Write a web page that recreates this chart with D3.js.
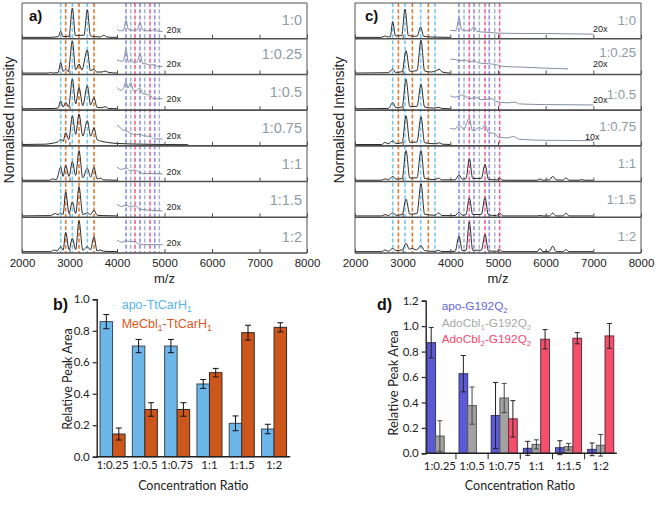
<!DOCTYPE html>
<html><head><meta charset="utf-8">
<script src="https://cdn.jsdelivr.net/npm/d3@7"></script>
<style>body{margin:0;background:#fff}svg{display:block}</style>
</head><body><svg id="fig" width="661" height="508"></svg>
<script>
// ---------- DATA ----------
const ratioLabels = ["1:0","1:0.25","1:0.5","1:0.75","1:1","1:1.5","1:2"];
const mzTicks = [2000,3000,4000,5000,6000,7000,8000];

// panel a marker lines (m/z)
const aBlueLines = [2815,3060,3375];
const aOrangeLines = [2920,3200,3516];
const aPurpleLines = [4190,4484,4794];
const aGrayLines = [4288,4583,4891];
const aPinkLines = [4379,4695];
// panel c marker lines (m/z)
const cBlueLines = [2791,3049,3378,3678];
const cOrangeLines = [2910,3203,3538];
const cPurpleLines = [4182,4497,4817];
const cGrayLines = [4287,4608,4931];
const cPinkLines = [4398,4727,5034];

// panel a spectra [m/z, normalised intensity]
const aSpec1 = [[2000,0.01],[2600,0.01],[2700,0.02],[2765,0.03],[2815,0.18],[2865,0.03],[2990,0.04],[3060,0.85],[3125,0.06],[3200,0.07],[3305,0.07],[3375,0.80],[3440,0.06],[3520,0.03],[3650,0.02],[3720,0.07],[3790,0.02],[3900,0.01],[4000,0.01]];
const aSpec2 = [[2000,0.01],[2550,0.01],[2600,0.03],[2650,0.01],[2760,0.02],[2815,0.31],[2865,0.06],[2920,0.12],[2975,0.05],[3060,0.93],[3130,0.10],[3200,0.27],[3260,0.10],[3375,0.67],[3440,0.08],[3516,0.12],[3570,0.04],[3680,0.04],[3750,0.07],[3820,0.03],[4000,0.01]];
const aSpec3 = [[2000,0.01],[2700,0.02],[2760,0.03],[2815,0.24],[2865,0.06],[2920,0.19],[2980,0.06],[3060,0.86],[3130,0.15],[3200,0.62],[3280,0.10],[3375,0.67],[3445,0.12],[3516,0.33],[3580,0.05],[3680,0.04],[3750,0.07],[3820,0.02],[4000,0.01]];
const aSpec4 = [[2000,0.01],[2500,0.02],[2650,0.05],[2750,0.08],[2815,0.16],[2865,0.10],[2920,0.35],[2985,0.15],[3060,0.83],[3130,0.30],[3200,0.88],[3280,0.25],[3375,0.69],[3445,0.25],[3516,0.49],[3580,0.15],[3680,0.10],[3800,0.07],[4000,0.04],[4500,0.02],[5000,0.01],[5500,0.005]];
const aSpec5 = [[2000,0.01],[2580,0.01],[2650,0.05],[2720,0.02],[2815,0.38],[2865,0.12],[2920,0.43],[2990,0.12],[3060,0.54],[3130,0.15],[3200,0.86],[3280,0.08],[3375,0.35],[3445,0.10],[3516,0.38],[3580,0.05],[3650,0.07],[3720,0.02],[4000,0.01]];
const aSpec6 = [[2000,0.01],[2600,0.02],[2700,0.08],[2760,0.04],[2815,0.10],[2865,0.05],[2920,0.70],[2990,0.08],[3060,0.41],[3130,0.08],[3200,0.84],[3280,0.05],[3375,0.10],[3440,0.05],[3516,0.17],[3580,0.03],[3700,0.02],[4000,0.01]];
const aSpec7 = [[2000,0.01],[2600,0.01],[2680,0.06],[2740,0.03],[2815,0.15],[2865,0.05],[2920,0.56],[2990,0.07],[3060,0.39],[3130,0.07],[3200,0.89],[3280,0.05],[3375,0.15],[3440,0.06],[3516,0.44],[3580,0.03],[3650,0.06],[3720,0.02],[4000,0.01]];
// panel a 20x zoomed traces
const aZoom1 = [[4000,0.25],[4050,0.20],[4130,0.20],[4190,0.49],[4240,0.24],[4330,0.21],[4420,0.22],[4484,0.42],[4540,0.22],[4650,0.20],[4740,0.20],[4794,0.26],[4850,0.19],[4960,0.18]];
const aZoom2 = [[4000,0.39],[4060,0.36],[4130,0.35],[4190,0.68],[4240,0.32],[4300,0.40],[4360,0.30],[4420,0.32],[4484,0.56],[4540,0.28],[4620,0.27],[4700,0.24],[4794,0.25],[4850,0.20],[4960,0.20]];
const aZoom3 = [[4000,0.62],[4080,0.54],[4130,0.58],[4190,0.79],[4230,0.60],[4290,0.76],[4340,0.55],[4380,0.50],[4484,0.60],[4540,0.45],[4620,0.42],[4700,0.40],[4760,0.30],[4850,0.30],[4960,0.30]];
const aZoom4 = [[4000,0.57],[4060,0.50],[4130,0.42],[4190,0.40],[4260,0.35],[4380,0.29],[4484,0.30],[4560,0.26],[4700,0.24],[4790,0.17],[4960,0.17]];
const aZoom5 = [[4000,0.38],[4100,0.32],[4190,0.36],[4280,0.28],[4380,0.30],[4484,0.22],[4600,0.20],[4790,0.20],[4960,0.19]];
const aZoom6 = [[4000,0.34],[4100,0.28],[4190,0.32],[4280,0.27],[4380,0.30],[4484,0.20],[4650,0.18],[4960,0.15]];
const aZoom7 = [[4000,0.34],[4100,0.28],[4190,0.32],[4280,0.30],[4380,0.30],[4450,0.23],[4650,0.21],[4960,0.21]];
const aZoomFactors = ["20x","20x","20x","20x","20x","20x","20x"];

// panel c spectra
const cSpec1 = [[2000,0.01],[2550,0.01],[2629,0.05],[2700,0.02],[2740,0.03],[2791,0.46],[2850,0.05],[2980,0.06],[3049,0.82],[3120,0.06],[3300,0.04],[3378,0.31],[3440,0.04],[3600,0.02],[4000,0.01]];
const cSpec2 = [[2000,0.01],[2700,0.02],[2791,0.12],[2850,0.03],[2990,0.05],[3070,0.65],[3150,0.06],[3300,0.08],[3385,0.95],[3460,0.07],[3600,0.04],[3700,0.08],[3768,0.12],[3830,0.04],[4000,0.01]];
const cSpec3 = [[2000,0.01],[2700,0.02],[2791,0.19],[2860,0.04],[2990,0.06],[3070,0.86],[3150,0.07],[3300,0.08],[3385,0.71],[3460,0.06],[3650,0.03],[3750,0.05],[3830,0.02],[4000,0.01]];
const cSpec4 = [[2000,0.01],[2560,0.01],[2629,0.07],[2690,0.03],[2791,0.11],[2860,0.04],[2990,0.06],[3070,0.83],[3150,0.07],[3300,0.08],[3385,0.80],[3460,0.06],[3700,0.03],[3770,0.06],[3830,0.02],[4000,0.01]];
const cSpec5 = [[2000,0.01],[2560,0.01],[2629,0.05],[2700,0.02],[2791,0.12],[2860,0.04],[2990,0.06],[3070,0.86],[3150,0.07],[3300,0.08],[3385,0.86],[3460,0.06],[3680,0.03],[3750,0.07],[3820,0.02],[4100,0.02],[4182,0.16],[4250,0.04],[4330,0.06],[4398,0.62],[4470,0.06],[4650,0.06],[4727,0.46],[4800,0.04],[4970,0.02],[5034,0.07],[5100,0.01],[5820,0.01],[5881,0.05],[5940,0.01],[6080,0.02],[6148,0.12],[6220,0.02],[6360,0.01],[6426,0.08],[6490,0.01],[6700,0.01],[6755,0.03],[6810,0.01],[7000,0.01]];
const cSpec6 = [[2000,0.01],[2560,0.01],[2629,0.05],[2700,0.02],[2791,0.10],[2860,0.03],[2990,0.05],[3070,0.49],[3150,0.06],[3300,0.08],[3385,0.93],[3460,0.06],[3680,0.03],[3750,0.10],[3820,0.02],[4100,0.02],[4182,0.12],[4250,0.03],[4330,0.05],[4398,0.52],[4470,0.05],[4650,0.05],[4727,0.53],[4800,0.04],[4970,0.02],[5034,0.10],[5100,0.01],[5820,0.01],[5881,0.02],[5940,0.01],[6080,0.01],[6148,0.09],[6220,0.01],[6360,0.01],[6426,0.09],[6490,0.01],[7000,0.01]];
const cSpec7 = [[2000,0.01],[2560,0.01],[2629,0.06],[2700,0.02],[2791,0.10],[2860,0.04],[2990,0.06],[3070,0.25],[3140,0.08],[3200,0.10],[3290,0.06],[3385,0.18],[3460,0.04],[3680,0.02],[3750,0.05],[3820,0.01],[4100,0.02],[4182,0.45],[4250,0.04],[4330,0.05],[4398,0.86],[4470,0.05],[4650,0.05],[4727,0.50],[4800,0.03],[4970,0.02],[5034,0.06],[5100,0.01],[5820,0.01],[5881,0.10],[5940,0.01],[6080,0.02],[6148,0.17],[6220,0.01],[6360,0.01],[6426,0.07],[6490,0.01],[7000,0.01]];
// panel c zoomed traces
const cZoom1 = [[4000,0.21],[4120,0.20],[4182,0.56],[4240,0.22],[4330,0.20],[4420,0.20],[4497,0.32],[4560,0.18],[4700,0.16],[4850,0.15],[5000,0.13],[5500,0.12],[6000,0.12],[6500,0.11],[7000,0.10]];
const cZoom2 = [[4000,0.41],[4100,0.40],[4182,0.36],[4300,0.38],[4400,0.33],[4497,0.36],[4600,0.30],[4750,0.28],[4930,0.26],[5100,0.20],[5500,0.18],[6000,0.15],[6470,0.13]];
const cZoom3 = [[4000,0.38],[4100,0.34],[4250,0.41],[4400,0.30],[4560,0.33],[4650,0.27],[4870,0.30],[4950,0.22],[5200,0.18],[5356,0.20],[5450,0.15],[6000,0.13],[7000,0.12]];
const cZoom4 = [[4000,0.47],[4100,0.45],[4182,0.57],[4280,0.45],[4398,0.75],[4460,0.42],[4497,0.40],[4608,0.50],[4660,0.45],[4727,0.57],[4800,0.35],[4929,0.33],[5000,0.22],[5200,0.20],[5321,0.24],[5450,0.16],[6000,0.13],[7000,0.12]];
const cZoomFactors = ["20x","20x","20x","10x"];

// panel b
const barCats = ["1:0.25","1:0.5","1:0.75","1:1","1:1.5","1:2"];
const bApo = [0.858,0.703,0.703,0.462,0.212,0.176];
const bApoErr = [0.045,0.042,0.042,0.028,0.047,0.030];
const bMeCbl = [0.144,0.300,0.300,0.534,0.788,0.822];
const bMeCblErr = [0.038,0.043,0.043,0.027,0.047,0.029];
const bTicks = [0,0.2,0.4,0.6,0.8,1.0];
// panel d
const dApo = [0.870,0.626,0.297,0.039,0.044,0.031];
const dApoErr = [0.120,0.143,0.260,0.055,0.055,0.050];
const dAdo1 = [0.136,0.375,0.435,0.070,0.052,0.063];
const dAdo1Err = [0.120,0.146,0.115,0.036,0.026,0.085];
const dAdo2 = [null,null,0.271,0.897,0.905,0.923];
const dAdo2Err = [null,null,0.143,0.076,0.044,0.098];
const dTicks = [0,0.2,0.4,0.6,0.8,1.0,1.2];

// ---------- DRAW ----------
const svg = d3.select("#fig");
const SANS = "'Liberation Sans', Arial, sans-serif";
const CAL = "Lato, 'Open Sans', sans-serif";
const C = {blue:"#7cc6ee", orange:"#e27a32", purple:"#8e8ee6", gray:"#aab6c4", pink:"#f2639a",
  ratio:"#8c9ba7", trace:"#2a2a2a", zoom:"#8090a2", frame:"#505050"};

function spectraPanel(o){
  const g = svg.append("g");
  const T = 3, B = 253, n = 7, h = (B - T) / n;
  const x = d3.scaleLinear().domain([2000,8000]).range([o.x0, o.x1]);
  // dashed markers
  o.lines.forEach(([arr, col]) => {
    g.append("g").selectAll("line").data(arr).join("line")
      .attr("x1", d => x(d)).attr("x2", d => x(d)).attr("y1", T).attr("y2", B)
      .attr("stroke", col).attr("stroke-width", 1.6).attr("stroke-dasharray", "4,2.2");
  });
  const line = d3.line().curve(d3.curveMonotoneX);
  for (let i = 0; i < n; i++) {
    const sb = T + (i + 1) * h;
    const y = d3.scaleLinear().domain([0,1]).range([sb - 1, sb - 36]);
    line.x(d => x(d[0])).y(d => y(d[1]));
    if (o.zoom[i]) {
      g.append("path").attr("d", line(o.zoom[i])).attr("fill","none")
        .attr("stroke", C.zoom).attr("stroke-width", 1);
      g.append("text").attr("x", o.zoomLabelX[i]).attr("y", sb - o.zoomLabelDy[i])
        .attr("font-family", SANS).attr("font-size", 9).attr("fill", "#222").text(o.zoomF[i]);
    }
    g.append("path").attr("d", line(o.spec[i])).attr("fill","none")
      .attr("stroke", C.trace).attr("stroke-width", 1);
    // ratio label
    g.append("text").attr("x", o.x1 - 5).attr("y", T + i * h + o.labDy[i])
      .attr("text-anchor","end").attr("font-family", SANS).attr("font-size", o.labSize)
      .attr("fill", C.ratio).text(ratioLabels[i]);
    // ticks on strip baseline
    const ax = d3.axisBottom(x).tickValues(mzTicks).tickSizeInner(-4).tickSizeOuter(0)
      .tickPadding(6).tickFormat(i === n - 1 ? d3.format("d") : () => "");
    const ag = g.append("g").attr("transform", `translate(0,${sb})`).call(ax);
    ag.select(".domain").remove();
    ag.selectAll("line").attr("stroke", C.frame);
    ag.selectAll("text").attr("font-family", SANS).attr("font-size", 11.5).attr("fill", "#222");
  }
  // strip separators and frame
  g.append("g").selectAll("line").data(d3.range(n + 1)).join("line")
    .attr("x1", o.x0).attr("x2", o.x1).attr("y1", d => T + d * h).attr("y2", d => T + d * h)
    .attr("stroke", C.frame).attr("stroke-width", d => (d === 0 ? 1 : 1.6));
  [o.x0, o.x1].forEach(xx => g.append("line").attr("x1", xx).attr("x2", xx).attr("y1", T).attr("y2", B)
    .attr("stroke", C.frame).attr("stroke-width", 1));
  // axis titles
  g.append("text").attr("x", (o.x0 + o.x1) / 2).attr("y", 283).attr("text-anchor","middle")
    .attr("font-family", SANS).attr("font-size", 13).attr("fill","#222").text("m/z");
  g.append("text").attr("transform", `translate(${o.yLabX},120) rotate(-90)`).attr("text-anchor","middle")
    .attr("font-family", SANS).attr("font-size", 14).attr("fill","#222").text("Normalised Intensity");
  g.append("text").attr("x", o.x0 + o.tagDx).attr("y", 21).attr("font-family", SANS)
    .attr("font-weight","bold").attr("font-size", 15).attr("fill","#111").text(o.tag);
}

spectraPanel({x0:22, x1:307, tag:"a)", tagDx:7, yLabX:13.5, labSize:14.5,
  lines:[[aBlueLines,C.blue],[aOrangeLines,C.orange],[aPurpleLines,C.purple],[aGrayLines,C.gray],[aPinkLines,C.pink]],
  spec:[aSpec1,aSpec2,aSpec3,aSpec4,aSpec5,aSpec6,aSpec7],
  zoom:[aZoom1,aZoom2,aZoom3,aZoom4,aZoom5,aZoom6,aZoom7], zoomF:aZoomFactors,
  zoomLabelX:[166.5,166.5,166.5,166.5,166.5,166.5,166.5], zoomLabelDy:[6,7.5,8,6.7,6.7,7.5,7.5],
  labDy:[22,20,23,23.3,23.6,23.6,24.5]});
spectraPanel({x0:355, x1:641, tag:"c)", tagDx:10, yLabX:343.5, labSize:13.2,
  lines:[[cBlueLines,C.blue],[cOrangeLines,C.orange],[cPurpleLines,C.purple],[cGrayLines,C.gray],[cPinkLines,C.pink]],
  spec:[cSpec1,cSpec2,cSpec3,cSpec4,cSpec5,cSpec6,cSpec7],
  zoom:[cZoom1,cZoom2,cZoom3,cZoom4], zoomF:cZoomFactors,
  zoomLabelX:[593,593,593,585], zoomLabelDy:[7,7.5,7.2,5.5],
  labDy:[22,18,24.5,21,22.5,22.6,24]});

// ---------- BAR PANELS ----------
function errBars(g, data, xf, y, cap, col){
  const d2 = data.filter(d => d.v != null);
  g.selectAll(null).data(d2).join("line")
    .attr("x1", d => xf(d)).attr("x2", d => xf(d)).attr("y1", d => y(d.v - d.e)).attr("y2", d => y(d.v + d.e))
    .attr("stroke", col).attr("stroke-width", 1);
  [1,-1].forEach(s => g.selectAll(null).data(d2).join("line")
    .attr("x1", d => xf(d) - cap).attr("x2", d => xf(d) + cap)
    .attr("y1", d => y(d.v + s * d.e)).attr("y2", d => y(d.v + s * d.e))
    .attr("stroke", col).attr("stroke-width", 1));
}

function barPanel(o){
  const g = svg.append("g");
  const x0 = d3.scaleBand().domain(barCats).range(o.xr).paddingInner(o.pad).paddingOuter(o.pad / 2);
  const x1 = d3.scaleBand().domain(o.series.map(s => s.key)).range([0, x0.bandwidth()]);
  const y = d3.scaleLinear().domain(o.ydom).range(o.yr);
  o.series.forEach(s => {
    const data = barCats.map((c, i) => ({c, v: s.vals[i], e: s.errs[i]}));
    const sg = g.append("g");
    sg.selectAll("rect").data(data.filter(d => d.v != null)).join("rect")
      .attr("x", d => x0(d.c) + x1(s.key)).attr("width", x1.bandwidth())
      .attr("y", d => y(d.v)).attr("height", d => y(0) - y(d.v))
      .attr("fill", s.fill).attr("stroke", s.stroke).attr("stroke-width", 1);
    errBars(sg, data, d => x0(d.c) + x1(s.key) + x1.bandwidth() / 2, y, o.cap, s.err);
  });
  // y axis
  const ay = g.append("g").attr("transform", `translate(${o.axX},0)`)
    .call(d3.axisLeft(y).tickValues(o.ticks).tickFormat(d3.format(".1f")).tickSize(4).tickPadding(3));
  ay.select(".domain").attr("stroke","#222").attr("stroke-width",1.4);
  ay.selectAll("line").attr("stroke","#222").attr("stroke-width",1.2);
  ay.selectAll("text").attr("font-family", CAL).attr("font-size", 11.5).attr("fill","#222");
  // x axis
  const ax = g.append("g").attr("transform", `translate(0,${o.yr[0]})`)
    .call(d3.axisBottom(x0).tickSize(0).tickPadding(o.xPad));
  ax.select(".domain").attr("d", `M${o.axX},0H${o.xr[1]}`).attr("stroke","#222").attr("stroke-width",1.4);
  ax.selectAll("text").attr("font-family", CAL).attr("font-size", 11.5).attr("fill","#222");
  if (o.sepTicks) {
    g.append("g").selectAll("line").data(barCats.slice(1)).join("line")
      .attr("x1", d => x0(d) - x0.step() * o.pad / 2).attr("x2", d => x0(d) - x0.step() * o.pad / 2)
      .attr("y1", o.yr[0]).attr("y2", o.yr[0] + 6).attr("stroke","#222").attr("stroke-width",1);
  }
  // titles
  g.append("text").attr("x", o.xTitleX).attr("y", 490).attr("text-anchor","middle")
    .attr("font-family", CAL).attr("font-size", 12.5).attr("fill","#222").text("Concentration Ratio");
  g.append("text").attr("transform", `translate(${o.yTitleX},${o.yTitleY}) rotate(-90)`).attr("text-anchor","middle")
    .attr("font-family", CAL).attr("font-size", o.yTitleSize).attr("fill","#222").text("Relative Peak Area");
  g.append("text").attr("x", o.tagX).attr("y", 309.5).attr("font-family", SANS).attr("font-weight","bold")
    .attr("font-size", 16).attr("fill","#111").text(o.tag);
  // legend
  o.legend.forEach(L => {
    const t = g.append("text").attr("x", o.legX).attr("y", L.y).attr("font-family", SANS)
      .attr("font-size", o.legSize).attr("fill", L.col);
    L.parts.forEach(p => {
      if (p.sub) t.append("tspan").attr("font-size", o.legSize * 0.68).attr("dy", 3).text(p.sub);
      else t.append("tspan").attr("dy", p.after ? -3 : 0).text(p.t);
    });
  });
}

barPanel({xr:[96.4,290.2], pad:0.225, ydom:[0,1], yr:[456.7,299.3], axX:96.7, ticks:bTicks, cap:3,
  xPad:4, sepTicks:false, xTitleX:193.3, yTitleX:72, yTitleY:379, yTitleSize:12.5, tag:"b)", tagX:53,
  series:[{key:"apo", vals:bApo, errs:bApoErr, fill:"#6cb6ea", stroke:"#3a4a58", err:"#111"},
          {key:"me", vals:bMeCbl, errs:bMeCblErr, fill:"#cc561c", stroke:"#3a2a22", err:"#111"}],
  legX:121.7, legSize:12.5,
  legend:[{y:309.3, col:"#58b4ee", parts:[{t:"apo-TtCarH"},{sub:"1"}]},
          {y:327.5, col:"#d9571c", parts:[{t:"MeCbl"},{sub:"1"},{t:"-TtCarH", after:true},{sub:"1"}]}]});

barPanel({xr:[423.8,616.8], pad:0.19, ydom:[0,1.2], yr:[453.3,300.7], axX:425.7, ticks:dTicks, cap:2.5,
  xPad:8.5, sepTicks:true, xTitleX:520, yTitleX:398, yTitleY:383, yTitleSize:13, tag:"d)", tagX:377,
  series:[{key:"apo", vals:dApo, errs:dApoErr, fill:"#5a5ad6", stroke:"#34346a", err:"#222"},
          {key:"ado1", vals:dAdo1, errs:dAdo1Err, fill:"#a2a2a2", stroke:"#5a5a5a", err:"#444"},
          {key:"ado2", vals:dAdo2, errs:dAdo2Err, fill:"#f4506e", stroke:"#6a2a36", err:"#222"}],
  legX:441.7, legSize:11.8,
  legend:[{y:310.3, col:"#6565e0", parts:[{t:"apo-G192Q"},{sub:"2"}]},
          {y:326.5, col:"#a8a8a8", parts:[{t:"AdoCbl"},{sub:"1"},{t:"-G192Q", after:true},{sub:"2"}]},
          {y:343, col:"#f2486c", parts:[{t:"AdoCbl"},{sub:"2"},{t:"-G192Q", after:true},{sub:"2"}]}]});
</script></body></html>
